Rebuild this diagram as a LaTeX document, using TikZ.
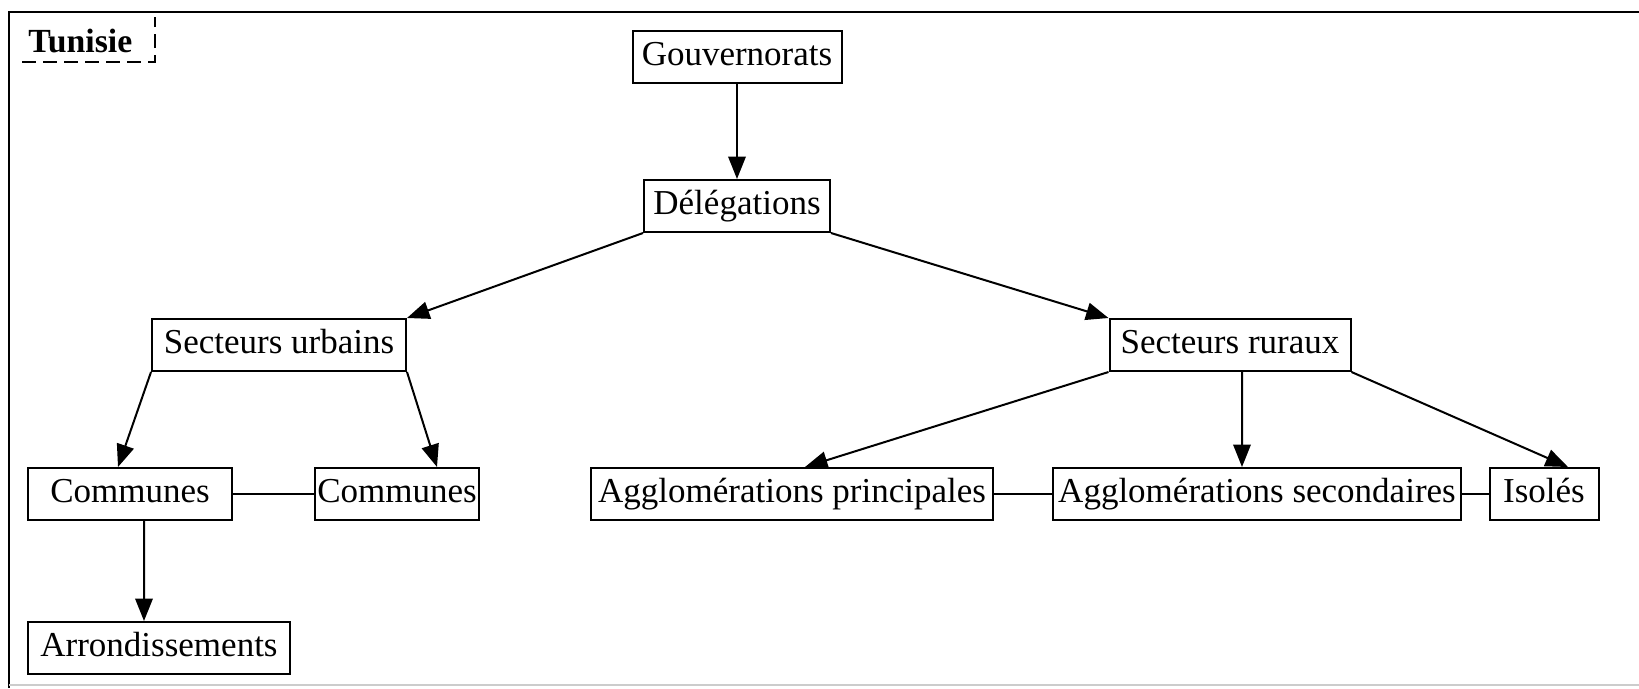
\documentclass[tikz,border=0pt]{standalone}
\usepackage{fontspec}
\setmainfont{Liberation Serif}
\usetikzlibrary{arrows.meta}
\begin{document}
\begin{tikzpicture}[x=0.4pt,y=-0.4pt,
  box/.style={draw, line width=0.8pt, inner xsep=1pt, minimum height=20.8pt,
    minimum width={#1*0.4pt}, text height=10pt, text depth=3pt,
    font=\fontsize{14}{16}\selectfont},
  arw/.style={-{Triangle[length=9pt,width=7pt]}, line width=0.8pt},
  link/.style={line width=0.8pt}]
\useasboundingbox (0,0) rectangle (1639,688);
% frame
\draw[line width=1pt] (9,688) -- (9,12) -- (1639,12);
\draw[gray!40, line width=0.6pt] (9,685) -- (1639,685);
% title
\node[font=\bfseries\fontsize{13.5}{16}\selectfont, anchor=base west, inner sep=0pt] (tun) at (28,52) {Tunisie};
\draw[line width=0.8pt, dash pattern=on 5.6pt off 2.8pt] (22,62) -- (155,62) -- (155,17);
% nodes
\node[box=209] (gov) at (737,57) {Gouvernorats};
\node[box=186] (del) at (737,206) {Délégations};
\node[box=254] (su) at (279,345) {Secteurs urbains};
\node[box=241] (sr) at (1230,345) {Secteurs ruraux};
\node[box=204] (cl) at (130,494) {Communes};
\node[box=163] (cr) at (397,494) {Communes};
\node[box=262] (arrd) at (159,648) {Arrondissements};
\node[box=402] (ap) at (792,494) {Agglomérations principales};
\node[box=408] (as) at (1257,494) {Agglomérations secondaires};
\node[box=109] (is) at (1544,494) {Isolés};
% arrows
\draw[arw] (gov) -- (del);
\draw[arw] (del.south west) -- (su.north east);
\draw[arw] (del.south east) -- (sr.north west);
\draw[arw] (su.south west) -- ([xshift=-4.8pt]cl.north);
\draw[arw] (su.south east) -- ([xshift=16pt]cr.north);
\draw[arw] ([xshift=5.6pt]cl.south) -- ([xshift=-6pt]arrd.north);
\draw[arw] (sr.south west) -- ([xshift=5.2pt]ap.north);
\draw[arw] ([xshift=4.8pt]sr.south) -- ([xshift=-6pt]as.north);
\draw[arw] (sr.south east) -- ([xshift=9.6pt]is.north);
% links
\draw[link] (cl.east) -- (cr.west);
\draw[link] (ap.east) -- (as.west);
\draw[link] (as.east) -- (is.west);
\end{tikzpicture}
\end{document}
